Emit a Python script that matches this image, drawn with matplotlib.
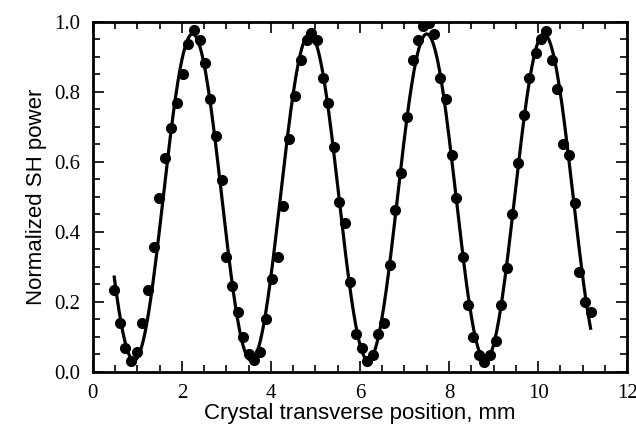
import numpy as np
import matplotlib.pyplot as plt
from matplotlib.ticker import MultipleLocator

pos_mm = [0.48, 0.61, 0.73, 0.85, 1.00, 1.11, 1.24, 1.37, 1.49, 1.62, 1.75, 1.88,
          2.02, 2.14, 2.27, 2.40, 2.52, 2.64, 2.76, 2.89, 3.00, 3.13, 3.27, 3.38,
          3.51, 3.62, 3.76, 3.90, 4.03, 4.15, 4.26, 4.41, 4.54, 4.67, 4.80, 4.91,
          5.04, 5.16, 5.29, 5.42, 5.53, 5.66, 5.78, 5.91, 6.04, 6.15, 6.29, 6.41,
          6.54, 6.67, 6.79, 6.92, 7.05, 7.18, 7.31, 7.42, 7.55, 7.67, 7.80, 7.93,
          8.06, 8.15, 8.31, 8.42, 8.53, 8.67, 8.79, 8.92, 9.06, 9.17, 9.30, 9.42,
          9.56, 9.69, 9.80, 9.95, 10.06, 10.18, 10.32, 10.43, 10.57, 10.70, 10.82,
          10.93, 11.06, 11.18]
sh_power = [0.234, 0.139, 0.068, 0.031, 0.058, 0.139, 0.234, 0.358, 0.498, 0.610,
            0.696, 0.768, 0.850, 0.936, 0.977, 0.947, 0.884, 0.779, 0.674, 0.549,
            0.327, 0.246, 0.172, 0.101, 0.051, 0.034, 0.057, 0.150, 0.266, 0.327,
            0.475, 0.665, 0.789, 0.891, 0.949, 0.968, 0.947, 0.841, 0.768, 0.642,
            0.485, 0.425, 0.256, 0.109, 0.068, 0.031, 0.049, 0.109, 0.141, 0.306,
            0.463, 0.569, 0.727, 0.891, 0.947, 0.989, 0.998, 0.966, 0.839, 0.779,
            0.620, 0.498, 0.327, 0.191, 0.099, 0.047, 0.027, 0.047, 0.089, 0.191,
            0.296, 0.451, 0.598, 0.734, 0.839, 0.912, 0.950, 0.975, 0.891, 0.807,
            0.651, 0.620, 0.484, 0.285, 0.201, 0.170]

x = np.array(pos_mm)
y = np.array(sh_power)

# least squares sinusoid fit to the measured points (scan the period)
best = None
for period in np.linspace(2.3, 3.0, 701):
    k = 2 * np.pi / period
    A = np.column_stack([np.ones_like(x), np.cos(k * x), np.sin(k * x)])
    coef = np.linalg.lstsq(A, y, rcond=None)[0]
    err = np.sum((A @ coef - y) ** 2)
    if best is None or err < best[0]:
        best = (err, k, coef)
_, k, coef = best
xf = np.linspace(x.min(), x.max(), 600)
yf = coef[0] + coef[1] * np.cos(k * xf) + coef[2] * np.sin(k * xf)

fig = plt.figure(figsize=(6.36, 4.3), dpi=100)
ax = fig.add_axes([0.146, 0.135, 0.840, 0.814])

ax.plot(xf, yf, color='black', lw=2.3)
ax.plot(x, y, 'o', color='black', ms=7)

ax.set_xlim(0, 12)
ax.set_ylim(0, 1.0)
ax.xaxis.set_major_locator(MultipleLocator(2))
ax.xaxis.set_minor_locator(MultipleLocator(0.5))
ax.yaxis.set_major_locator(MultipleLocator(0.2))
ax.yaxis.set_minor_locator(MultipleLocator(0.05))
ax.yaxis.set_major_formatter(plt.FuncFormatter(lambda v, p: f'{v:.1f}'))

ax.tick_params(which='both', direction='in', top=True, right=True, width=1.2)
ax.tick_params(which='major', length=8, pad=9)
ax.tick_params(which='minor', length=5)
for lab in ax.get_xticklabels() + ax.get_yticklabels():
    lab.set_fontfamily('Liberation Serif')
    lab.set_fontsize(15)
for s in ax.spines.values():
    s.set_linewidth(2)

ax.set_xlabel('Crystal transverse position, mm', fontsize=16,
              fontfamily='Liberation Sans', labelpad=0)
ax.set_ylabel('Normalized SH power', fontsize=16,
              fontfamily='Liberation Sans', labelpad=5)

fig.savefig('out.png', dpi=100)
